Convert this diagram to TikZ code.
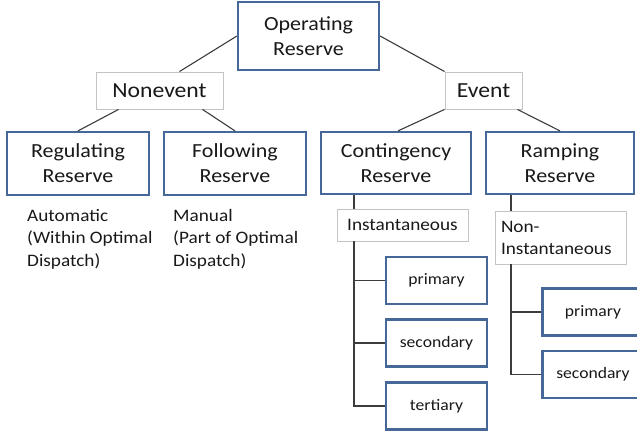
\documentclass[tikz,border=0pt]{standalone}
\usepackage{fontspec}
\setmainfont{Carlito}[FakeStretch=1.1]
\usepackage{tikz}
\usetikzlibrary{calc}

\definecolor{boxblue}{RGB}{70,104,152}
\definecolor{boxgray}{RGB}{196,196,196}
\definecolor{linkgray}{RGB}{60,60,60}
\definecolor{txt}{RGB}{25,25,25}

\tikzset{
  bluebox/.style={draw=boxblue, line width=2.2pt, fill=white, inner sep=0pt,
    align=center, text=txt, font=\fontsize{20}{25}\selectfont},
  graybox/.style={draw=boxgray, line width=0.9pt, fill=white, inner sep=0pt,
    text=txt, font=\fontsize{21.5}{25}\selectfont},
  smallbox/.style={bluebox, minimum width=101pt, minimum height=47pt,
    font=\fontsize{16}{18}\selectfont},
  note/.style={anchor=north west, align=left, inner sep=0pt, text=txt,
    font=\fontsize{17.5}{22.5}\selectfont},
  link/.style={draw=linkgray, line width=1.1pt}
}

\begin{document}
\begin{tikzpicture}[x=1pt, y=-1pt]
    \useasboundingbox (0,0) rectangle (637,433);

    % top level
    \node (or) at (308.5, 36) [bluebox, minimum width=141pt, minimum height=68pt] {Operating\\Reserve};

    \node (ne) at (159.5, 90.5) [graybox, minimum width=127pt, minimum height=37pt] {Nonevent};
    \node (ev) at (483.5, 90.5) [graybox, minimum width=77pt, minimum height=37pt] {Event};

    % reserves
    \node (reg) at (78, 163.5) [bluebox, minimum width=142pt, minimum height=63pt] {Regulating\\Reserve};
    \node (fol) at (235, 163.5) [bluebox, minimum width=142pt, minimum height=63pt] {Following\\Reserve};
    \node (con) at (396, 163) [bluebox, minimum width=150pt, minimum height=62pt] {Contingency\\Reserve};
    \node (ramp) at (560, 163) [bluebox, minimum width=148pt, minimum height=62pt] {Ramping\\Reserve};

    \node (auto) at (27, 209) [note] {Automatic\\(Within Optimal\\Dispatch)};
    \node (man) at (173, 209) [note] {Manual\\(Part of Optimal\\Dispatch)};

    % event subtypes
    \node (inst) at (402.5, 225) [graybox, minimum width=131pt, minimum height=32pt,
        font=\fontsize{17.5}{20}\selectfont] {Instantaneous};
    \node (noninst) at (560.5, 237.5) [graybox, minimum width=131pt, minimum height=53pt,
        align=left, text width=119pt, font=\fontsize{17.5}{22}\selectfont] {Non-\\Instantaneous};

    \node (prim1) at (436.5, 280.5) [smallbox] {primary};
    \node (sec1) at (436.5, 343) [smallbox] {secondary};
    \node (tert) at (436.5, 406) [smallbox] {tertiary};

    \node (prim2) at (593, 312) [smallbox] {primary};
    \node (sec2) at (593, 374.5) [smallbox] {secondary};

    % connectors
    \draw[link] (or.west) -- ([xshift=20]ne.north);
    \draw[link] (or.east) -- (ev.north west);
    \draw[link] ([xshift=-41]ne.south) -- (reg.north);
    \draw[link] ([xshift=43]ne.south) -- (fol.north);
    \draw[link] (ev.south west) -- ([xshift=2]con.north);
    \draw[link] ([xshift=-5]ev.south east) -- (ramp.north);

    \draw[link] ([xshift=-42]con.south) coordinate (c1) -- (c1 |- inst.north);
    \draw[link] (c1 |- inst.south) |- (tert.west);
    \draw[link] (c1 |- prim1.west) -- (prim1.west);
    \draw[link] (c1 |- sec1.west) -- (sec1.west);

    \draw[link] ([xshift=-49]ramp.south) coordinate (c2) -- (c2 |- noninst.north);
    \draw[link] (c2 |- noninst.south) |- (sec2.west);
    \draw[link] (c2 |- prim2.west) -- (prim2.west);

\end{tikzpicture}
\end{document}
